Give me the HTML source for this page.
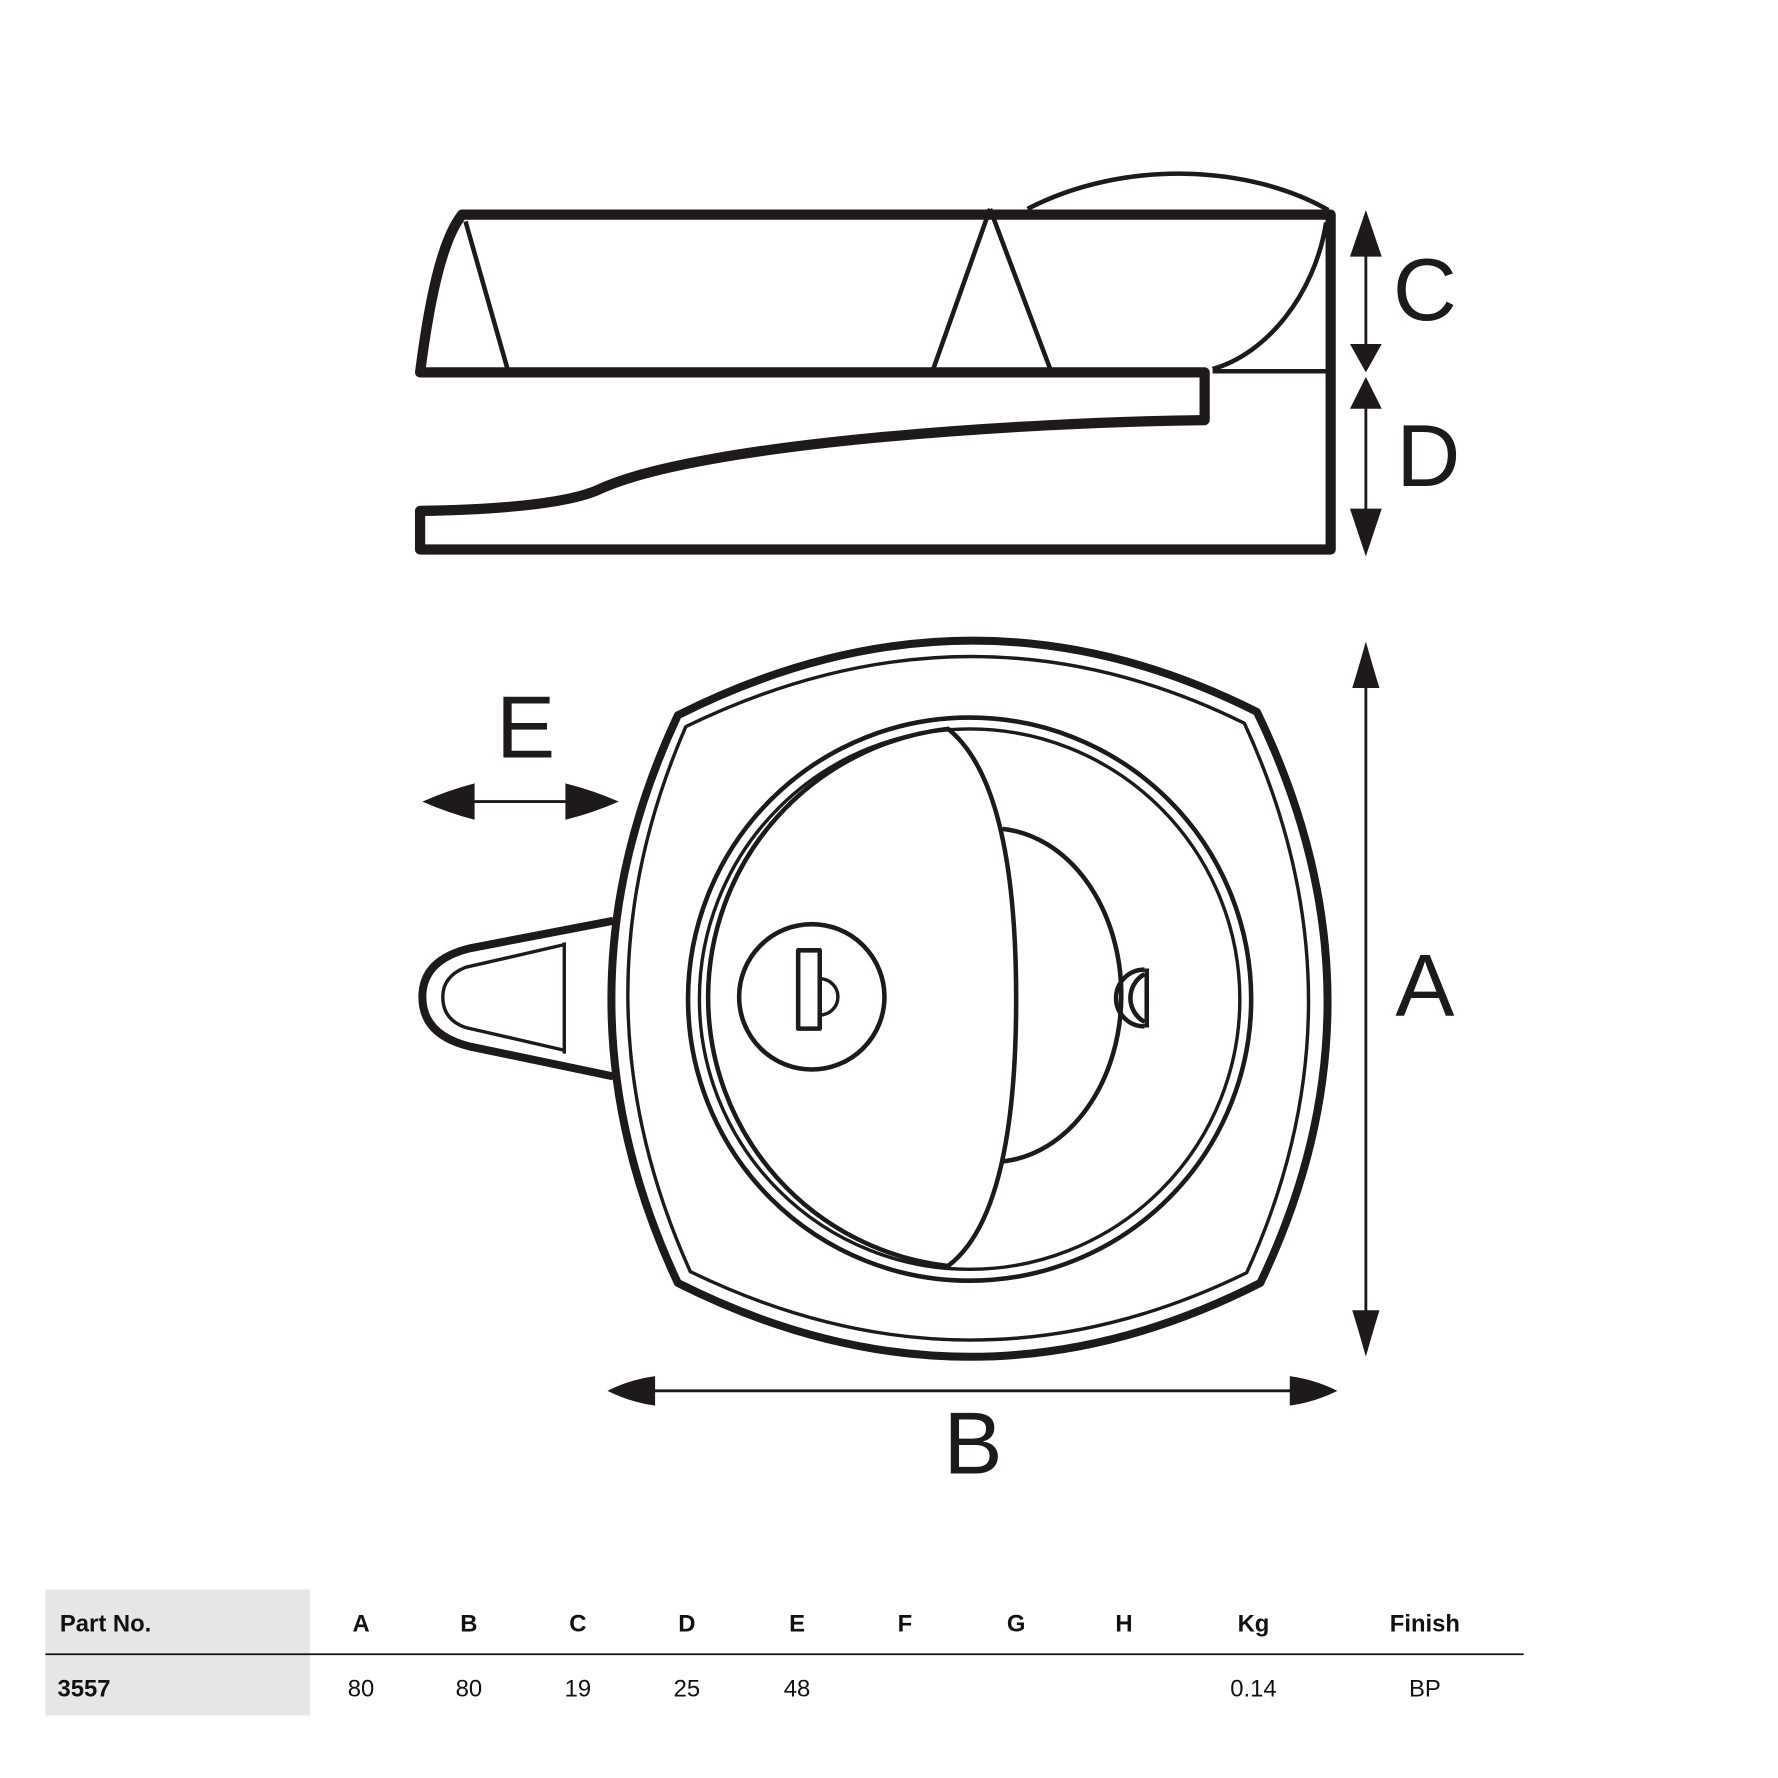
<!DOCTYPE html>
<html><head><style>html,body{margin:0;padding:0;background:#fff}svg{display:block}</style></head><body>
<svg width="1778" height="1778" viewBox="0 0 1566 1566" xmlns="http://www.w3.org/2000/svg" font-family="'Liberation Sans',sans-serif">
<g fill="none" stroke="#1e1a1a" stroke-linejoin="round">
<path d="M407,189 H1172 V484 H370 V450 C430,449 500,445 530,430 C620,390 900,372 1061,370 V328 H370 C380,250 392,208 407,189 Z" stroke-width="9"/>
<path d="M410,195 L447,325 M872,184 L822,325 M872,184 L925,325" stroke-width="4"/>
<path d="M905,184 C990,140 1100,145 1170,185" stroke-width="4"/>
<path d="M1168,196 C1158,260 1115,312 1068,325 M1068,327 H1168" stroke-width="4"/>
<path d="M597,630 Q855,500 1107,627 Q1230,880 1110,1130 Q855,1260 597,1130 Q480,880 597,630 Z" stroke-width="7"/>
<path d="M604,640 Q855,518 1096,637 Q1208,880 1098,1121 Q855,1240 608,1120 Q500,880 604,640 Z" stroke-width="3"/>
<circle cx="854" cy="880" r="248" stroke-width="4"/>
<circle cx="854" cy="880" r="238" stroke-width="3"/>
<path d="M835,642 Q895,690 895,880 Q895,1070 835,1115 A238,238 0 0 1 835,642 Z" stroke-width="4"/>
<path d="M883,730 A114,147 0 0 1 883,1023" stroke-width="4"/>
<circle cx="715" cy="878" r="64" stroke-width="4"/>
<rect x="703" y="837" width="19" height="69" stroke-width="4"/>
<path d="M722,862 A16,16 0 0 1 722,894" stroke-width="3"/>
<path d="M1008,854 A24,24 0 1 0 1008,904" stroke-width="4"/>
<path d="M1008,858 A24,24 0 0 0 1008,900 M1010,853 V905" stroke-width="4"/>
<path d="M540,811 L415,835 Q372,845 372,878 Q372,912 415,922 L540,948" stroke-width="7"/>
<path d="M497,830 V928 M497,832 L410,852 Q390,860 390,878 Q390,898 410,905 L497,925" stroke-width="3"/>
<path d="M1203,200 V318 M1203,342 V470 M1203,580 V1180 M395,706 H520 M555,1225 H1160" stroke-width="2.5"/>
</g>
<g fill="#1e1a1a">
<path d="M1203,185 L1217,226 H1189 Z M1203,328 L1217,303 H1189 Z M1203,332 L1217,360 H1189 Z M1203,490 L1217,448 H1189 Z"/>
<path d="M1203,565 Q1210,590 1215,606 H1191 Q1196,590 1203,565 Z M1203,1195 Q1210,1170 1215,1154 H1191 Q1196,1170 1203,1195 Z"/>
<path d="M372,706 Q395,696 418,690 V722 Q395,716 372,706 Z M545,706 Q522,696 498,690 V722 Q522,716 545,706 Z"/>
<path d="M535,1225 Q555,1215 577,1212 V1238 Q555,1235 535,1225 Z M1178,1225 Q1158,1215 1136,1212 V1238 Q1158,1235 1178,1225 Z"/>
</g>
<g fill="#1e1a1a" font-size="78" text-anchor="middle">
<text x="1255" y="282">C</text>
<text x="1258" y="428">D</text>
<text x="463" y="667">E</text>
<text x="1255" y="895">A</text>
<text x="857" y="1298">B</text>
</g>
<rect x="40" y="1400" width="233" height="111" fill="#e6e6e6"/>
<line x1="40" y1="1457" x2="1342" y2="1457" stroke="#111" stroke-width="1.5"/>
<g font-size="21" fill="#111">
<g font-weight="bold" text-anchor="middle">
<text x="93" y="1437">Part No.</text>
<text x="318" y="1437">A</text><text x="413" y="1437">B</text><text x="509" y="1437">C</text><text x="605" y="1437">D</text><text x="702" y="1437">E</text><text x="797" y="1437">F</text><text x="895" y="1437">G</text><text x="990" y="1437">H</text><text x="1104" y="1437">Kg</text><text x="1255" y="1437">Finish</text>
<text x="74" y="1494">3557</text>
</g>
<g text-anchor="middle">
<text x="318" y="1494">80</text><text x="413" y="1494">80</text><text x="509" y="1494">19</text><text x="605" y="1494">25</text><text x="702" y="1494">48</text><text x="1104" y="1494">0.14</text><text x="1255" y="1494">BP</text>
</g>
</g>
</svg>
</body></html>
